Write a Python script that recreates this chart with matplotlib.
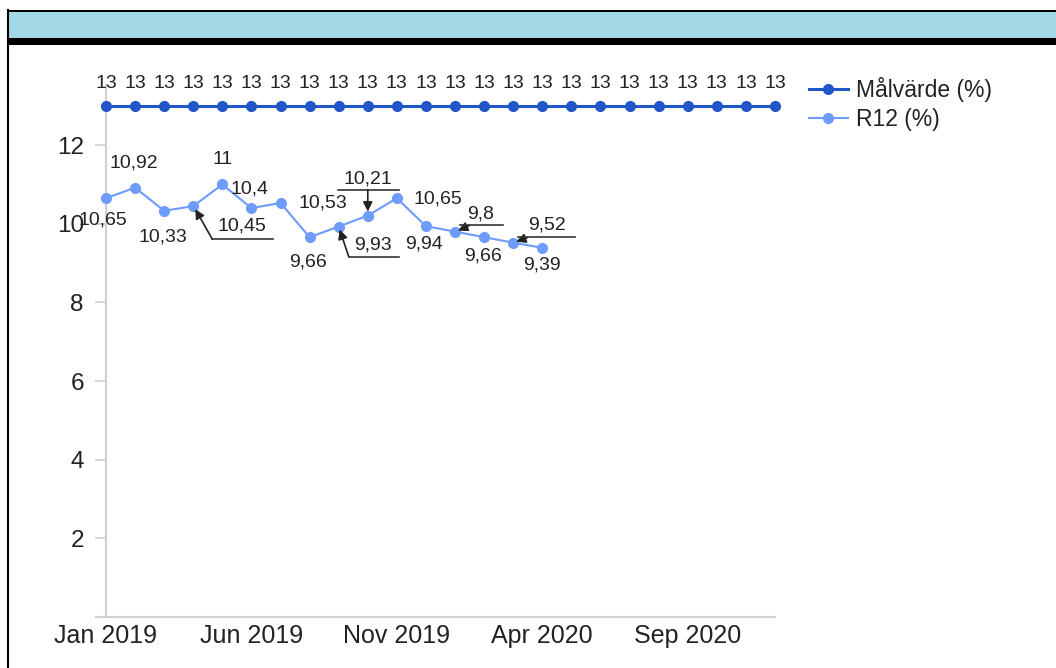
import matplotlib
matplotlib.use("Agg")
import matplotlib.pyplot as plt
import matplotlib.transforms as mtransforms
from matplotlib.lines import Line2D
from matplotlib.patches import Rectangle

plt.rcParams["font.family"] = ["Liberation Sans", "DejaVu Sans"]

# data
months = [
    "Jan 2019", "Feb 2019", "Mar 2019", "Apr 2019", "May 2019", "Jun 2019",
    "Jul 2019", "Aug 2019", "Sep 2019", "Oct 2019", "Nov 2019", "Dec 2019",
    "Jan 2020", "Feb 2020", "Mar 2020", "Apr 2020", "May 2020", "Jun 2020",
    "Jul 2020", "Aug 2020", "Sep 2020", "Oct 2020", "Nov 2020", "Dec 2020",
]
malvarde = [13] * 24
r12 = [10.65, 10.92, 10.33, 10.45, 11, 10.4, 10.53, 9.66, 9.93, 10.21,
       10.65, 9.94, 9.8, 9.66, 9.52, 9.39]
y_ticks = [2, 4, 6, 8, 10, 12]
x_tick_idx = [0, 5, 10, 15, 20]

C_MAL = "#2156c8"
C_R12 = "#6d9cfc"
TXT = "#222222"
AXC = "#d0d0d0"

# label placement in pixels relative to the point (dx, dy with dy downwards)
plain_offsets = {
    0: (-3, 22), 1: (-1, -25), 2: (-1, 26), 4: (0, -25), 5: (-2, -19),
    6: (42, 0), 7: (-2, 25), 10: (41, 1), 11: (-2, 18), 13: (-1, 19),
    15: (0, 17),
}
# callouts: text offset, underline (x0, x1, y), arrow (from x, y, to x, y)
callouts = {
    3: ((49, 20), (19, 80, 33), (19, 33, 2, 3)),
    8: ((34, 18), (10, 60, 30), (10, 30, 1, 3)),
    9: ((0, -37), (-30, 31, -26), (0, -26, 0, -4)),
    12: ((26, -18), (5, 48, -7), (14, -6, 3, -1)),
    14: ((34, -18), (5, 62, -6), (14, -5, 3, -1)),
}

W, H = 1056, 668
fig = plt.figure(figsize=(W / 100, H / 100), dpi=100)

# header band
fig.patches.append(Rectangle((7 / W, 1 - 45 / H), 1.0, 35 / H, transform=fig.transFigure,
                             facecolor="black", edgecolor="none"))
fig.patches.append(Rectangle((9 / W, 1 - 38 / H), 1.0, 26 / H, transform=fig.transFigure,
                             facecolor="#a4d8e6", edgecolor="none"))
fig.lines.append(Line2D([7.5 / W, 7.5 / W], [0, 1 - 10 / H], transform=fig.transFigure,
                        color="black", linewidth=1.5))

ax = fig.add_axes([106 / W, 1 - 617 / H, (775 - 106) / W, (617 - 85) / H])
x = list(range(len(months)))
ax.plot(x, malvarde, color=C_MAL, linewidth=2.2, marker="o", markersize=7,
        label="Målvärde (%)", clip_on=False, zorder=3)
ax.plot(x[:len(r12)], r12, color=C_R12, linewidth=1.5, marker="o", markersize=7,
        label="R12 (%)", clip_on=False, zorder=3)

ax.set_xlim(0, 23)
ax.set_ylim(0, 13.53)
for side in ["top", "right"]:
    ax.spines[side].set_visible(False)
for side in ["left", "bottom"]:
    ax.spines[side].set_color(AXC)
    ax.spines[side].set_linewidth(1.5)
ax.spines["bottom"].set_bounds(-0.35, 23)
ax.set_yticks(y_ticks)
ax.set_yticklabels([str(v) for v in y_ticks])
ax.set_xticks(x_tick_idx)
ax.set_xticklabels([months[i] for i in x_tick_idx])
ax.tick_params(axis="y", length=8, width=1.2, color=AXC, labelsize=17.5, labelcolor=TXT, pad=8)
ax.tick_params(axis="x", length=0, labelsize=18, labelcolor=TXT, pad=5)

LAB_FS = 14


def off(dx, dy):
    return ax.transData + mtransforms.ScaledTranslation(dx / 100, -dy / 100, fig.dpi_scale_trans)


def fmt(v):
    return f"{v:g}".replace(".", ",")


for i, v in enumerate(malvarde):
    ax.text(i, v, fmt(v), transform=off(0, -22), ha="center", va="center",
            fontsize=LAB_FS, color=TXT, clip_on=False)

for i, v in enumerate(r12):
    if i in plain_offsets:
        dx, dy = plain_offsets[i]
        ax.text(i, v, fmt(v), transform=off(dx, dy), ha="center", va="center",
                fontsize=LAB_FS, color=TXT, clip_on=False)
        continue
    (tx, ty), (u0, u1, uy), (ax0, ay0, ax1, ay1) = callouts[i]
    ax.text(i, v, fmt(v), transform=off(tx, ty), ha="center", va="center",
            fontsize=LAB_FS, color=TXT, clip_on=False)
    px, py = ax.transData.transform((i, v))
    fig.lines.append(Line2D([(px + u0) / W, (px + u1) / W], [(py - uy) / H, (py - uy) / H],
                            transform=fig.transFigure, color="#333333", linewidth=1.2))
    ax.annotate("", xy=(px + ax1, py - ay1), xycoords="figure pixels",
                xytext=(px + ax0, py - ay0), textcoords="figure pixels",
                arrowprops=dict(arrowstyle="-|>", color="#222222", lw=1.2,
                                mutation_scale=14, shrinkA=0, shrinkB=0),
                annotation_clip=False)

fig.legend(loc="upper left", bbox_to_anchor=(804 / W, 1 - 72 / H), frameon=False,
           fontsize=16.5, handlelength=1.7, labelspacing=0.3, handletextpad=0.35,
           labelcolor=TXT, borderaxespad=0, borderpad=0.2)

fig.savefig("out.png", dpi=100)
